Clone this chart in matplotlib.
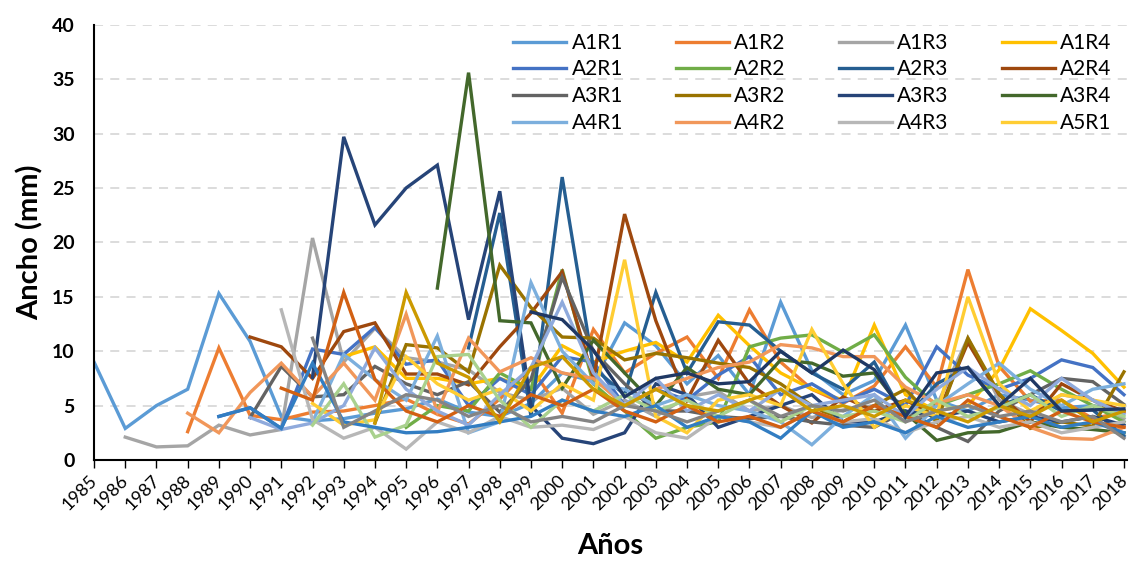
import numpy as np
import matplotlib
matplotlib.use("Agg")
import matplotlib.pyplot as plt
import matplotlib.transforms as mtransforms

plt.rcParams['font.family'] = ['Lato', 'DejaVu Sans']

years = list(range(1985, 2019))
N = None

# values per series, 1985..2018 (None = no measurement)
A1R1 = [9.0, 2.9, 5.0, 6.5, 15.3, 10.9, 4.0, 3.6, 3.8, 4.3, 4.7, 5.6, 4.4, 4.0, 5.2, 8.0, 7.2,
        12.6, 10.5, 7.0, 9.6, 6.0, 14.5, 8.2, 6.0, 7.3, 12.4, 5.5, 4.5, 6.0, 5.5, 4.8, 5.0, 4.5]
A1R2 = [N, N, N, 2.6, 10.3, 4.1, 3.7, 4.4, 4.5, 5.0, 5.6, 4.2, 3.3, 5.6, 8.5, 4.3, 12.0,
        8.0, 9.8, 11.3, 7.5, 13.8, 9.0, 6.5, 5.2, 6.8, 10.4, 6.7, 17.5, 8.6, 5.4, 5.5, 3.8, 4.4]
A1R3 = [N, 2.1, 1.2, 1.3, 3.2, 2.3, 2.8, 20.4, 9.0, 12.1, 9.4, 9.0, 8.3, 6.2, 5.5, 6.6, 4.2,
        5.5, 4.0, 5.8, 6.3, 4.5, 5.0, 3.9, 4.6, 5.0, 4.1, 5.0, 11.2, 5.5, 4.2, 6.0, 5.5, 3.8]
A1R4 = [N, N, N, N, N, N, N, N, 9.5, 10.4, 7.5, 7.5, 7.0, 7.5, 6.5, 10.5, 9.0,
        10.0, 10.8, 9.0, 13.3, 10.5, 8.0, 6.5, 5.5, 12.4, 6.0, 4.5, 5.0, 8.3, 13.9, 11.9, 9.8, 6.7]
A2R1 = [N, N, N, N, 4.0, 4.8, 2.9, 10.2, 9.7, 12.2, 8.8, 9.2, 5.0, 7.5, 6.0, 9.5, 9.0,
        5.0, 6.5, 5.5, 7.8, 9.5, 6.0, 7.0, 5.3, 6.5, 5.0, 10.4, 7.8, 6.5, 7.5, 9.2, 8.5, 6.0]
A2R2 = [N, N, N, N, N, N, N, N, N, N, 3.0, 5.0, 4.5, 8.0, 6.5, 17.5, 7.0,
        4.5, 2.0, 3.0, 3.5, 10.4, 11.2, 11.5, 9.9, 11.5, 7.6, 5.0, 6.0, 7.0, 8.2, 6.5, 5.0, 3.5]
A2R3 = [N, N, N, N, N, N, N, N, N, N, N, N, 10.3, 22.7, 4.0, 26.0, 8.5,
        6.0, 15.4, 8.0, 12.7, 12.4, 10.0, 8.0, 6.5, 9.0, 3.8, 7.0, 8.5, 5.0, 6.0, 4.5, 4.6, 2.2]
A2R4 = [N, N, N, N, N, 11.3, 10.4, 7.5, 11.8, 12.6, 7.9, 7.9, 6.9, 10.4, 13.5, 17.3, 7.5,
        22.6, 12.8, 5.5, 11.0, 7.0, 5.0, 3.4, 5.8, 4.5, 5.5, 4.0, 10.8, 6.0, 3.5, 7.0, 5.5, 4.5]
A3R1 = [N, N, N, N, N, 3.9, 8.6, 5.8, 6.0, 8.6, 7.0, 6.0, 7.2, 4.4, 7.4, 16.8, 10.0,
        7.0, 4.5, 4.5, 4.0, 3.8, 4.0, 3.5, 3.2, 3.0, 4.5, 3.0, 1.7, 4.5, 6.0, 7.5, 7.2, 5.1]
A3R2 = [N, N, N, N, N, N, N, N, N, 3.4, 10.6, 10.3, 8.1, 17.9, 14.0, 11.3, 11.2,
        9.2, 9.8, 9.4, 8.9, 8.5, 7.0, 5.0, 3.5, 5.0, 6.5, 3.5, 11.2, 6.1, 2.9, 3.5, 3.1, 8.1]
A3R3 = [N, N, N, N, N, N, N, 7.6, 29.7, 21.6, 25.0, 27.1, 12.9, 24.7, 5.0, 2.0, 1.5,
        2.5, 7.0, 6.0, 3.0, 4.0, 5.0, 6.0, 3.5, 3.5, 4.5, 4.0, 4.5, 3.5, 4.0, 3.5, 4.0, 3.2]
A3R4 = [N, N, N, N, N, N, N, N, N, N, N, 15.8, 35.6, 12.8, 12.6, 6.6, 11.0,
        8.0, 5.0, 8.5, 6.5, 6.0, 9.2, 8.9, 7.7, 8.0, 4.3, 1.8, 2.5, 2.6, 3.5, 3.0, 2.8, 2.5]
A4R1 = [N, N, N, N, N, N, N, 3.5, 9.7, 7.4, 5.5, 11.4, 2.5, 3.5, 16.3, 10.0, 7.0,
        6.5, 5.0, 6.0, 5.0, 4.5, 3.5, 1.4, 4.0, 6.0, 2.0, 5.0, 7.0, 8.9, 6.5, 5.0, 6.5, 7.0]
A4R2 = [N, N, N, 4.3, 2.5, 6.2, 8.9, 5.8, 8.9, 5.5, 13.4, 4.4, 11.2, 8.1, 9.4, 8.0, 7.5,
        5.0, 6.5, 7.5, 8.5, 9.0, 10.6, 10.3, 9.5, 9.5, 6.7, 5.2, 6.0, 5.0, 3.0, 2.0, 1.9, 3.0]
A4R3 = [N, N, N, N, N, N, 13.8, 3.7, 2.0, 3.0, 1.0, 3.5, 2.5, 4.0, 3.0, 3.2, 2.8,
        4.0, 2.5, 2.0, 4.0, 3.5, 3.0, 4.5, 3.5, 3.8, 2.5, 3.5, 4.0, 3.0, 3.5, 2.5, 3.0, 3.5]
A5R1 = [N, N, N, N, N, N, N, 5.2, 3.2, 3.7, 9.5, 7.0, 5.5, 6.5, 4.5, 7.0, 5.5,
        18.4, 4.0, 2.5, 5.5, 6.0, 5.0, 12.0, 7.0, 3.0, 5.0, 4.0, 15.0, 7.0, 4.5, 6.0, 5.5, 5.0]
# further series drawn in the chart but cut from its legend
S17 = [N, N, N, N, N, 3.9, 2.8, 3.4, 5.0, 10.3, 6.5, 4.5, 3.2, 6.0, 8.5, 14.5, 8.0,
       5.0, 7.5, 4.5, 6.0, 4.5, 6.5, 5.0, 5.5, 6.0, 4.0, 6.5, 8.5, 6.5, 5.0, 7.5, 5.5, 4.2]
S18 = [N, N, N, N, N, N, N, 3.2, 7.0, 2.1, 3.2, 9.5, 9.7, 5.5, 3.0, 5.5, 4.5,
       6.0, 4.5, 5.5, 4.0, 5.5, 3.5, 5.0, 4.0, 4.5, 3.5, 5.5, 4.0, 4.8, 6.0, 4.0, 5.0, 4.0]
S19 = [N, N, N, N, 4.0, 4.8, 2.9, 8.9, 3.5, 3.0, 2.5, 2.6, 3.0, 3.5, 4.0, 5.5, 4.5,
       4.0, 5.0, 3.0, 4.0, 3.5, 2.0, 4.5, 3.0, 3.5, 2.5, 4.0, 3.0, 3.5, 4.0, 3.0, 3.5, 2.5]
S20 = [N, N, N, N, N, N, 6.6, 5.5, 15.4, 7.4, 4.5, 3.5, 5.0, 4.0, 6.0, 5.0, 6.5,
       4.5, 3.5, 5.0, 3.5, 4.0, 3.0, 4.5, 3.5, 5.0, 4.0, 3.0, 5.5, 4.0, 3.0, 4.5, 3.5, 3.0]
S21 = [N, N, N, N, N, N, N, 11.2, 3.0, 4.5, 6.0, 5.5, 4.0, 5.0, 3.5, 4.0, 3.5,
       5.0, 4.5, 3.5, 4.5, 5.5, 4.0, 5.0, 4.5, 5.5, 3.5, 4.5, 5.0, 4.0, 4.5, 3.5, 4.0, 2.0]
S22 = [N, N, N, N, N, N, N, N, N, 3.4, 15.4, 8.9, 7.6, 3.5, 8.5, 9.5, 6.5,
       5.0, 6.5, 5.0, 4.5, 5.5, 6.5, 4.5, 5.0, 4.0, 5.5, 4.5, 3.5, 5.0, 4.0, 5.5, 3.5, 4.5]
S23 = [N, N, N, N, N, N, N, N, N, N, N, N, N, N, 13.6, 12.9, 10.1,
       5.8, 7.5, 8.0, 7.0, 7.2, 10.0, 8.0, 10.1, 8.3, 4.0, 8.0, 8.5, 5.0, 7.5, 4.5, 4.6, 4.7]

labels = ['A1R1', 'A1R2', 'A1R3', 'A1R4', 'A2R1', 'A2R2', 'A2R3', 'A2R4',
          'A3R1', 'A3R2', 'A3R3', 'A3R4', 'A4R1', 'A4R2', 'A4R3', 'A5R1']
series = [A1R1, A1R2, A1R3, A1R4, A2R1, A2R2, A2R3, A2R4,
          A3R1, A3R2, A3R3, A3R4, A4R1, A4R2, A4R3, A5R1,
          S17, S18, S19, S20, S21, S22, S23]
colors = ['#5B9BD5', '#ED7D31', '#A5A5A5', '#FFC000', '#4472C4', '#70AD47',
          '#255E91', '#9E480E', '#636363', '#997300', '#264478', '#43682B',
          '#7CAFDD', '#F1975A', '#B7B7B7', '#FFCD33',
          '#8FAADC', '#A9D18E', '#327DC2', '#D26012', '#848484', '#CC9A00', '#1F3864']

fig = plt.figure(figsize=(11.29, 5.63), dpi=100)
ax = fig.add_axes([0.0833, 0.183, 0.915, 0.773])

handles = []
for vals, c in zip(series, colors):
    y = np.array([np.nan if v is None else v for v in vals], dtype=float)
    h, = ax.plot(years, y, color=c, lw=2.4, solid_joinstyle='miter')
    handles.append(h)

ax.set_xlim(1985, 2018.1)
ax.set_ylim(0, 40)
ax.set_yticks(range(0, 41, 5))
ax.set_xticks(years)
ax.set_xticklabels([str(y) for y in years], rotation=45, ha='right',
                   rotation_mode='anchor', fontsize=13)
ax.tick_params(axis='x', length=6, width=1, direction='out', pad=3)
ax.tick_params(axis='y', length=0, pad=14)
# nudge the slanted year labels a little left so 2018 stays inside
shift = mtransforms.ScaledTranslation(-5 / 100, 0, fig.dpi_scale_trans)
for t in ax.get_xticklabels():
    t.set_transform(t.get_transform() + shift)
for t in ax.get_yticklabels():
    t.set_fontsize(14)
    t.set_fontweight('bold')

ax.yaxis.grid(True, linestyle=(0, (5, 4)), color='#D9D9D9', lw=1.3)
ax.set_axisbelow(True)
for s in ['top', 'right']:
    ax.spines[s].set_visible(False)
ax.spines['left'].set_linewidth(1.5)
ax.spines['bottom'].set_linewidth(1.5)

ax.set_ylabel('Ancho (mm)', fontsize=21, fontweight='bold', labelpad=6)
ax.set_xlabel('Años', fontsize=21, fontweight='bold', labelpad=14)

# legend reads across rows, matplotlib fills columns: reorder
order = [r * 4 + c for c in range(4) for r in range(4)]
fig.legend([handles[i] for i in order], [labels[i] for i in order],
           loc='upper left', bbox_to_anchor=(0.438, 0.975),
           ncol=4, frameon=False, fontsize=15, handlelength=2.55,
           columnspacing=2.55, labelspacing=0.32, handletextpad=0.25)

fig.savefig('out.png', dpi=100)
